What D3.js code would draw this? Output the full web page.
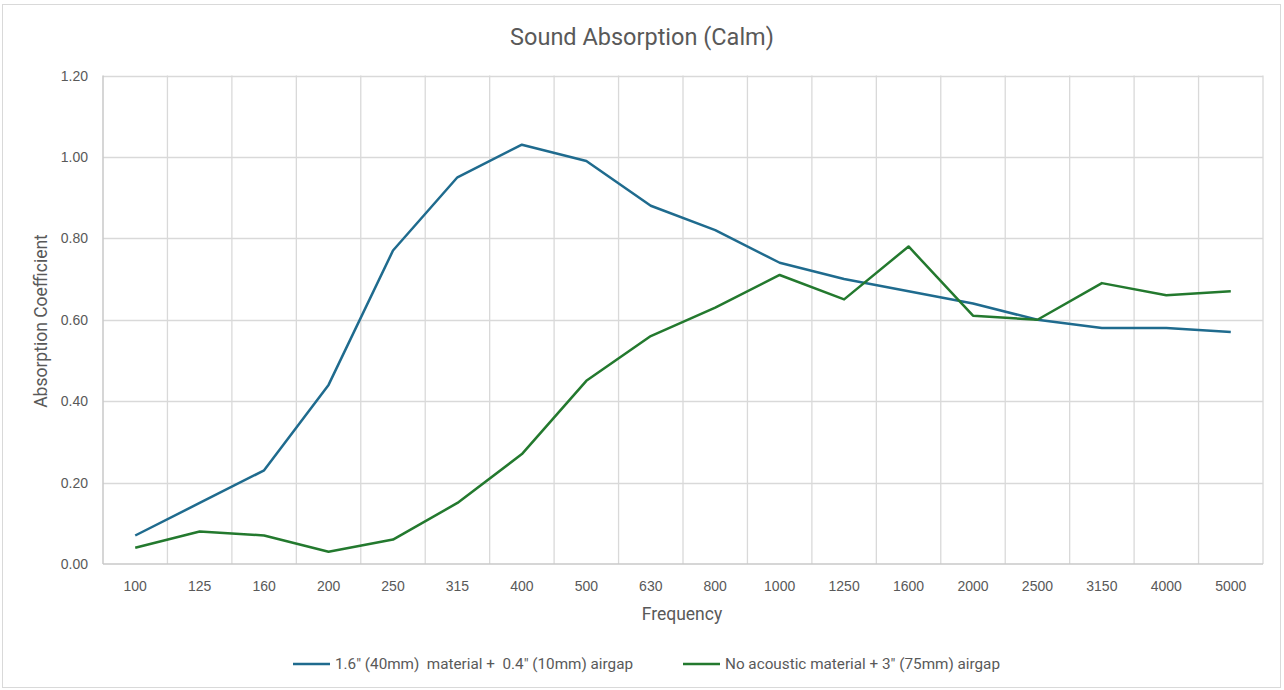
<!DOCTYPE html>
<html>
<head>
<meta charset="utf-8">
<script src="https://cdn.jsdelivr.net/npm/d3@7"></script>
<style>
  body { margin: 0; background: #fff; }
  svg { display: block; }
  .tick-label { font-family: "Liberation Sans", Arial, sans-serif; font-size: 14px; fill: #595959; }
  .narrow { font-family: "Roboto", "Liberation Sans", sans-serif; fill: #595959; white-space: pre; }
</style>
</head>
<body>
<script>
// categories (frequency bands, Hz):
var frequencies = ["100", "125", "160", "200", "250", "315", "400", "500", "630",
  "800", "1000", "1250", "1600", "2000", "2500", "3150", "4000", "5000"];

// series values (absorption coefficient):
var withMaterial = [0.07, 0.15, 0.23, 0.44, 0.77, 0.95, 1.03, 0.99, 0.88,
  0.82, 0.74, 0.70, 0.67, 0.64, 0.60, 0.58, 0.58, 0.57];
var noMaterial = [0.04, 0.08, 0.07, 0.03, 0.06, 0.15, 0.27, 0.45, 0.56,
  0.63, 0.71, 0.65, 0.78, 0.61, 0.60, 0.69, 0.66, 0.67];

var yTicks = [0, 0.2, 0.4, 0.6, 0.8, 1.0, 1.2];

var series = [
  { label: "1.6\" (40mm)  material +  0.4\" (10mm) airgap", values: withMaterial, color: "#1f6b8e" },
  { label: "No acoustic material + 3\" (75mm) airgap", values: noMaterial, color: "#23792e" }
];

var width = 1284, height = 690;
var plot = { left: 103, right: 1263, top: 75.5, bottom: 564 };

var svg = d3.select("body").append("svg")
  .attr("width", width)
  .attr("height", height);

// outer chart border:
svg.append("rect")
  .attr("x", 2.5).attr("y", 4.5)
  .attr("width", 1278).attr("height", 683)
  .attr("fill", "#fff")
  .attr("stroke", "#d9d9d9");

var x = d3.scaleBand()
  .domain(frequencies)
  .range([plot.left, plot.right]);
var y = d3.scaleLinear()
  .domain([0, 1.2])
  .range([plot.bottom, plot.top]);

// horizontal gridlines:
svg.append("g").selectAll("line")
  .data(yTicks.slice(1))
  .join("line")
  .attr("x1", plot.left).attr("x2", plot.right)
  .attr("y1", function (d) { return Math.round(y(d)) + 0.5; })
  .attr("y2", function (d) { return Math.round(y(d)) + 0.5; })
  .attr("stroke", "#d9d9d9")
  .attr("stroke-width", 1.3);

// vertical gridlines at band edges:
svg.append("g").selectAll("line")
  .data(frequencies.slice(1).concat(["end"]))
  .join("line")
  .attr("x1", function (d, i) { return plot.left + (i + 1) * x.step(); })
  .attr("x2", function (d, i) { return plot.left + (i + 1) * x.step(); })
  .attr("y1", plot.top).attr("y2", plot.bottom)
  .attr("stroke", "#d9d9d9")
  .attr("stroke-width", 1.3);

// axis lines:
svg.append("line")
  .attr("x1", plot.left).attr("x2", plot.left)
  .attr("y1", plot.top).attr("y2", plot.bottom)
  .attr("stroke", "#c8c8c8").attr("stroke-width", 1.5);
svg.append("line")
  .attr("x1", plot.left).attr("x2", plot.right)
  .attr("y1", plot.bottom).attr("y2", plot.bottom)
  .attr("stroke", "#c8c8c8").attr("stroke-width", 1.5);

// y tick labels:
svg.append("g").selectAll("text")
  .data(yTicks)
  .join("text")
  .attr("class", "tick-label")
  .attr("x", 88)
  .attr("y", function (d) { return y(d) + 5; })
  .attr("text-anchor", "end")
  .text(function (d) { return d3.format(".2f")(d); });

// x tick labels:
svg.append("g").selectAll("text")
  .data(frequencies)
  .join("text")
  .attr("class", "tick-label")
  .attr("x", function (d) { return x(d) + x.bandwidth() / 2; })
  .attr("y", 591)
  .attr("text-anchor", "middle")
  .text(function (d) { return d; });

// lines:
var line = d3.line()
  .x(function (d, i) { return x(frequencies[i]) + x.bandwidth() / 2; })
  .y(function (d) { return y(d); });

series.forEach(function (s) {
  svg.append("path")
    .datum(s.values)
    .attr("fill", "none")
    .attr("stroke", s.color)
    .attr("stroke-width", 2.5)
    .attr("stroke-linejoin", "round")
    .attr("d", line);
});

// titles:
svg.append("text")
  .attr("class", "narrow")
  .attr("x", 642).attr("y", 45)
  .attr("text-anchor", "middle")
  .style("font-size", "23.5px")
  .text("Sound Absorption (Calm)");

svg.append("text")
  .attr("class", "narrow")
  .attr("x", 682).attr("y", 620)
  .attr("text-anchor", "middle")
  .style("font-size", "17.5px")
  .text("Frequency");

svg.append("text")
  .attr("class", "narrow")
  .attr("transform", "translate(47,321) rotate(-90)")
  .attr("text-anchor", "middle")
  .style("font-size", "17.5px")
  .text("Absorption Coefficient");

// legend:
var legendItems = [
  { x: 293, textWidth: 298 },
  { x: 683, textWidth: 275 }
];
var legendG = svg.append("g").attr("transform", "translate(0,664)");
series.forEach(function (s, i) {
  var lx = legendItems[i].x;
  legendG.append("line")
    .attr("x1", lx).attr("x2", lx + 37)
    .attr("y1", 0).attr("y2", 0)
    .attr("stroke", s.color)
    .attr("stroke-width", 2.5);
  legendG.append("text")
    .attr("class", "narrow")
    .attr("x", lx + 42).attr("y", 5)
    .attr("textLength", legendItems[i].textWidth)
    .attr("lengthAdjust", "spacingAndGlyphs")
    .style("font-size", "15px")
    .text(s.label);
});
</script>
</body>
</html>
